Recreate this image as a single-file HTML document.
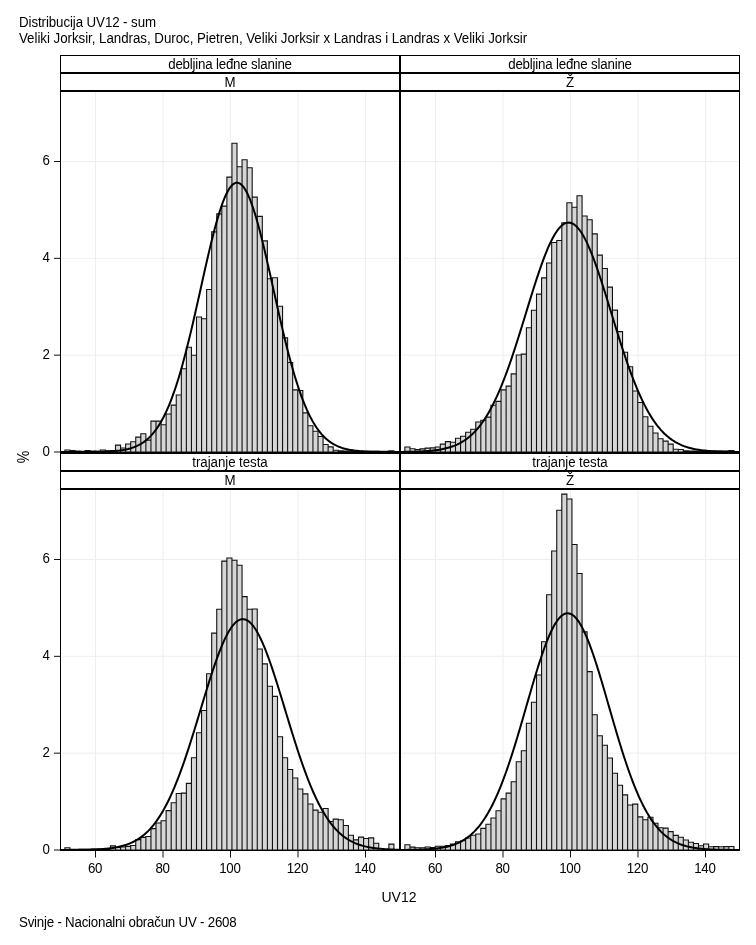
<!DOCTYPE html>
<html lang="sr"><head><meta charset="utf-8"><title>Distribucija UV12 - sum</title>
<style>
html,body{margin:0;padding:0;background:#fff;}
body{width:756px;height:945px;position:relative;overflow:hidden;font-family:"Liberation Sans",Arial,sans-serif;font-size:12px;color:#000;}
.t{position:absolute;white-space:nowrap;line-height:15px;font-size:13.33px;transform:scaleY(1.06);transform-origin:0 12.1px;}
.c{text-align:center;}
.r{text-align:right;}
</style></head><body>
<svg width="756" height="945" viewBox="0 0 756 945" style="position:absolute;left:0;top:0">
<path d="M95.500 92V452.0 M163.000 92V452.0 M230.500 92V452.0 M298.000 92V452.0 M365.500 92V452.0 M62 355.167H399 M62 258.333H399 M62 161.500H399" stroke="#eeeeee" stroke-width="1" fill="none"/>
<path d="M64.88 452.0V450.00H69.94V452.0ZM69.94 452.0V450.50H75.00V452.0ZM75.00 452.0V451.00H80.06V452.0ZM80.06 452.0V451.20H85.12V452.0ZM85.12 452.0V450.50H90.19V452.0ZM90.19 452.0V451.00H95.25V452.0ZM95.25 452.0V451.20H100.31V452.0ZM100.31 452.0V450.00H105.38V452.0ZM105.38 452.0V450.80H110.44V452.0ZM110.44 452.0V450.50H115.50V452.0ZM115.50 452.0V445.10H120.56V452.0ZM120.56 452.0V448.00H125.62V452.0ZM125.62 452.0V444.00H130.69V452.0ZM130.69 452.0V441.70H135.75V452.0ZM135.75 452.0V437.10H140.81V452.0ZM140.81 452.0V433.70H145.88V452.0ZM145.88 452.0V440.10H150.94V452.0ZM150.94 452.0V421.10H156.00V452.0ZM156.00 452.0V421.10H161.06V452.0ZM161.06 452.0V424.70H166.12V452.0ZM166.12 452.0V414.00H171.19V452.0ZM171.19 452.0V405.10H176.25V452.0ZM176.25 452.0V395.00H181.31V452.0ZM181.31 452.0V368.80H186.38V452.0ZM186.38 452.0V347.20H191.44V452.0ZM191.44 452.0V355.30H196.50V452.0ZM196.50 452.0V317.00H201.56V452.0ZM201.56 452.0V318.80H206.62V452.0ZM206.62 452.0V289.50H211.69V452.0ZM211.69 452.0V231.90H216.75V452.0ZM216.75 452.0V213.90H221.81V452.0ZM221.81 452.0V206.10H226.88V452.0ZM226.88 452.0V177.10H231.94V452.0ZM231.94 452.0V143.30H237.00V452.0ZM237.00 452.0V166.70H242.06V452.0ZM242.06 452.0V159.70H247.12V452.0ZM247.12 452.0V167.80H252.19V452.0ZM252.19 452.0V197.10H257.25V452.0ZM257.25 452.0V216.40H262.31V452.0ZM262.31 452.0V240.90H267.38V452.0ZM267.38 452.0V278.80H272.44V452.0ZM272.44 452.0V277.70H277.50V452.0ZM277.50 452.0V306.20H282.56V452.0ZM282.56 452.0V337.90H287.62V452.0ZM287.62 452.0V362.50H292.69V452.0ZM292.69 452.0V389.90H297.75V452.0ZM297.75 452.0V390.50H302.81V452.0ZM302.81 452.0V412.90H307.88V452.0ZM307.88 452.0V425.70H312.94V452.0ZM312.94 452.0V431.20H318.00V452.0ZM318.00 452.0V436.50H323.06V452.0ZM323.06 452.0V444.50H328.12V452.0ZM328.12 452.0V446.90H333.19V452.0ZM333.19 452.0V450.30H338.25V452.0ZM338.25 452.0V450.90H343.31V452.0ZM343.31 452.0V451.00H348.38V452.0ZM348.38 452.0V451.10H353.44V452.0ZM353.44 452.0V451.20H358.50V452.0ZM358.50 452.0V451.20H363.56V452.0ZM363.56 452.0V451.20H368.62V452.0ZM368.62 452.0V451.20H373.69V452.0ZM373.69 452.0V451.20H378.75V452.0ZM378.75 452.0V451.20H383.81V452.0ZM383.81 452.0V451.20H388.88V452.0ZM388.88 452.0V450.70H393.94V452.0Z" fill="#d6d6d6" stroke="#111" stroke-width="1.1"/>
<polyline points="61.0,452.00 62.0,452.00 63.0,452.00 64.0,452.00 65.0,452.00 66.0,452.00 67.0,452.00 68.0,451.99 69.0,451.99 70.0,451.99 71.0,451.99 72.0,451.99 73.0,451.99 74.0,451.99 75.0,451.99 76.0,451.99 77.0,451.98 78.0,451.98 79.0,451.98 80.0,451.98 81.0,451.97 82.0,451.97 83.0,451.97 84.0,451.96 85.0,451.96 86.0,451.95 87.0,451.95 88.0,451.94 89.0,451.93 90.0,451.93 91.0,451.92 92.0,451.91 93.0,451.90 94.0,451.88 95.0,451.87 96.0,451.86 97.0,451.84 98.0,451.82 99.0,451.80 100.0,451.78 101.0,451.76 102.0,451.73 103.0,451.70 104.0,451.67 105.0,451.64 106.0,451.60 107.0,451.56 108.0,451.51 109.0,451.46 110.0,451.40 111.0,451.34 112.0,451.28 113.0,451.21 114.0,451.13 115.0,451.04 116.0,450.95 117.0,450.85 118.0,450.74 119.0,450.63 120.0,450.50 121.0,450.36 122.0,450.21 123.0,450.05 124.0,449.87 125.0,449.68 126.0,449.48 127.0,449.25 128.0,449.02 129.0,448.76 130.0,448.49 131.0,448.19 132.0,447.87 133.0,447.53 134.0,447.17 135.0,446.78 136.0,446.36 137.0,445.91 138.0,445.44 139.0,444.93 140.0,444.39 141.0,443.81 142.0,443.19 143.0,442.54 144.0,441.85 145.0,441.11 146.0,440.33 147.0,439.50 148.0,438.62 149.0,437.69 150.0,436.71 151.0,435.67 152.0,434.58 153.0,433.43 154.0,432.21 155.0,430.93 156.0,429.59 157.0,428.18 158.0,426.70 159.0,425.15 160.0,423.53 161.0,421.83 162.0,420.05 163.0,418.19 164.0,416.26 165.0,414.24 166.0,412.13 167.0,409.94 168.0,407.67 169.0,405.31 170.0,402.86 171.0,400.31 172.0,397.68 173.0,394.96 174.0,392.15 175.0,389.25 176.0,386.25 177.0,383.16 178.0,379.99 179.0,376.72 180.0,373.37 181.0,369.93 182.0,366.40 183.0,362.79 184.0,359.10 185.0,355.33 186.0,351.48 187.0,347.56 188.0,343.57 189.0,339.51 190.0,335.38 191.0,331.20 192.0,326.96 193.0,322.67 194.0,318.34 195.0,313.96 196.0,309.55 197.0,305.11 198.0,300.65 199.0,296.16 200.0,291.67 201.0,287.17 202.0,282.68 203.0,278.19 204.0,273.73 205.0,269.28 206.0,264.87 207.0,260.49 208.0,256.16 209.0,251.89 210.0,247.67 211.0,243.53 212.0,239.46 213.0,235.48 214.0,231.59 215.0,227.80 216.0,224.12 217.0,220.55 218.0,217.11 219.0,213.79 220.0,210.62 221.0,207.58 222.0,204.69 223.0,201.96 224.0,199.39 225.0,196.99 226.0,194.76 227.0,192.71 228.0,190.84 229.0,189.16 230.0,187.66 231.0,186.36 232.0,185.25 233.0,184.34 234.0,183.64 235.0,183.13 236.0,182.83 237.0,182.73 238.0,182.84 239.0,183.15 240.0,183.66 241.0,184.38 242.0,185.29 243.0,186.41 244.0,187.72 245.0,189.22 246.0,190.91 247.0,192.79 248.0,194.85 249.0,197.09 250.0,199.49 251.0,202.07 252.0,204.81 253.0,207.70 254.0,210.74 255.0,213.92 256.0,217.24 257.0,220.69 258.0,224.26 259.0,227.95 260.0,231.74 261.0,235.64 262.0,239.62 263.0,243.69 264.0,247.84 265.0,252.06 266.0,256.33 267.0,260.67 268.0,265.04 269.0,269.46 270.0,273.90 271.0,278.37 272.0,282.86 273.0,287.35 274.0,291.85 275.0,296.34 276.0,300.82 277.0,305.29 278.0,309.73 279.0,314.14 280.0,318.51 281.0,322.84 282.0,327.13 283.0,331.37 284.0,335.55 285.0,339.67 286.0,343.73 287.0,347.72 288.0,351.64 289.0,355.48 290.0,359.25 291.0,362.94 292.0,366.55 293.0,370.07 294.0,373.51 295.0,376.86 296.0,380.12 297.0,383.29 298.0,386.37 299.0,389.36 300.0,392.26 301.0,395.07 302.0,397.79 303.0,400.42 304.0,402.96 305.0,405.40 306.0,407.76 307.0,410.03 308.0,412.22 309.0,414.32 310.0,416.34 311.0,418.27 312.0,420.12 313.0,421.90 314.0,423.59 315.0,425.21 316.0,426.76 317.0,428.24 318.0,429.65 319.0,430.99 320.0,432.26 321.0,433.47 322.0,434.62 323.0,435.71 324.0,436.75 325.0,437.73 326.0,438.65 327.0,439.53 328.0,440.36 329.0,441.14 330.0,441.87 331.0,442.57 332.0,443.22 333.0,443.83 334.0,444.41 335.0,444.95 336.0,445.46 337.0,445.93 338.0,446.38 339.0,446.80 340.0,447.18 341.0,447.55 342.0,447.89 343.0,448.20 344.0,448.50 345.0,448.77 346.0,449.03 347.0,449.26 348.0,449.48 349.0,449.69 350.0,449.88 351.0,450.05 352.0,450.21 353.0,450.36 354.0,450.50 355.0,450.63 356.0,450.75 357.0,450.86 358.0,450.96 359.0,451.05 360.0,451.13 361.0,451.21 362.0,451.28 363.0,451.35 364.0,451.41 365.0,451.46 366.0,451.51 367.0,451.56 368.0,451.60 369.0,451.64 370.0,451.67 371.0,451.70 372.0,451.73 373.0,451.76 374.0,451.78 375.0,451.80 376.0,451.82 377.0,451.84 378.0,451.86 379.0,451.87 380.0,451.88 381.0,451.90 382.0,451.91 383.0,451.92 384.0,451.93 385.0,451.93 386.0,451.94 387.0,451.95 388.0,451.95 389.0,451.96 390.0,451.96 391.0,451.97 392.0,451.97 393.0,451.97 394.0,451.98 395.0,451.98 396.0,451.98 397.0,451.98 398.0,451.99 399.0,451.99" fill="none" stroke="#000" stroke-width="2" stroke-linejoin="round"/>
<path d="M435.500 92V452.0 M503.000 92V452.0 M570.500 92V452.0 M638.000 92V452.0 M705.500 92V452.0 M402 355.167H739 M402 258.333H739 M402 161.500H739" stroke="#eeeeee" stroke-width="1" fill="none"/>
<path d="M404.88 452.0V447.00H409.94V452.0ZM409.94 452.0V448.70H415.00V452.0ZM415.00 452.0V449.50H420.06V452.0ZM420.06 452.0V448.90H425.12V452.0ZM425.12 452.0V448.10H430.19V452.0ZM430.19 452.0V447.90H435.25V452.0ZM435.25 452.0V447.00H440.31V452.0ZM440.31 452.0V444.10H445.38V452.0ZM445.38 452.0V441.60H450.44V452.0ZM450.44 452.0V442.30H455.50V452.0ZM455.50 452.0V438.20H460.56V452.0ZM460.56 452.0V436.20H465.62V452.0ZM465.62 452.0V432.20H470.69V452.0ZM470.69 452.0V429.20H475.75V452.0ZM475.75 452.0V422.00H480.81V452.0ZM480.81 452.0V420.20H485.88V452.0ZM485.88 452.0V417.10H490.94V452.0ZM490.94 452.0V405.20H496.00V452.0ZM496.00 452.0V401.40H501.06V452.0ZM501.06 452.0V389.90H506.12V452.0ZM506.12 452.0V386.10H511.19V452.0ZM511.19 452.0V373.90H516.25V452.0ZM516.25 452.0V355.00H521.31V452.0ZM521.31 452.0V354.10H526.38V452.0ZM526.38 452.0V327.80H531.44V452.0ZM531.44 452.0V310.30H536.50V452.0ZM536.50 452.0V294.10H541.56V452.0ZM541.56 452.0V277.90H546.62V452.0ZM546.62 452.0V263.00H551.69V452.0ZM551.69 452.0V242.50H556.75V452.0ZM556.75 452.0V240.50H561.81V452.0ZM561.81 452.0V222.90H566.88V452.0ZM566.88 452.0V202.70H571.94V452.0ZM571.94 452.0V207.20H577.00V452.0ZM577.00 452.0V195.70H582.06V452.0ZM582.06 452.0V216.00H587.12V452.0ZM587.12 452.0V219.80H592.19V452.0ZM592.19 452.0V233.90H597.25V452.0ZM597.25 452.0V255.10H602.31V452.0ZM602.31 452.0V268.50H607.38V452.0ZM607.38 452.0V287.10H612.44V452.0ZM612.44 452.0V310.10H617.50V452.0ZM617.50 452.0V331.60H622.56V452.0ZM622.56 452.0V352.30H627.62V452.0ZM627.62 452.0V366.70H632.69V452.0ZM632.69 452.0V391.00H637.75V452.0ZM637.75 452.0V402.50H642.81V452.0ZM642.81 452.0V416.80H647.88V452.0ZM647.88 452.0V426.20H652.94V452.0ZM652.94 452.0V433.00H658.00V452.0ZM658.00 452.0V438.70H663.06V452.0ZM663.06 452.0V441.10H668.12V452.0ZM668.12 452.0V444.10H673.19V452.0ZM673.19 452.0V449.20H678.25V452.0ZM678.25 452.0V449.50H683.31V452.0ZM683.31 452.0V450.90H688.38V452.0ZM688.38 452.0V451.00H693.44V452.0ZM693.44 452.0V451.00H698.50V452.0ZM698.50 452.0V451.10H703.56V452.0ZM703.56 452.0V451.10H708.62V452.0ZM708.62 452.0V451.10H713.69V452.0ZM713.69 452.0V451.10H718.75V452.0ZM718.75 452.0V451.10H723.81V452.0ZM723.81 452.0V451.10H728.88V452.0ZM728.88 452.0V450.50H733.94V452.0Z" fill="#d6d6d6" stroke="#111" stroke-width="1.1"/>
<polyline points="401.0,451.90 402.0,451.89 403.0,451.88 404.0,451.87 405.0,451.86 406.0,451.84 407.0,451.83 408.0,451.81 409.0,451.79 410.0,451.77 411.0,451.75 412.0,451.73 413.0,451.71 414.0,451.68 415.0,451.65 416.0,451.62 417.0,451.59 418.0,451.55 419.0,451.52 420.0,451.48 421.0,451.43 422.0,451.38 423.0,451.33 424.0,451.28 425.0,451.22 426.0,451.15 427.0,451.08 428.0,451.01 429.0,450.93 430.0,450.84 431.0,450.75 432.0,450.65 433.0,450.55 434.0,450.44 435.0,450.32 436.0,450.19 437.0,450.05 438.0,449.91 439.0,449.75 440.0,449.59 441.0,449.41 442.0,449.22 443.0,449.02 444.0,448.81 445.0,448.58 446.0,448.34 447.0,448.09 448.0,447.82 449.0,447.53 450.0,447.23 451.0,446.91 452.0,446.57 453.0,446.21 454.0,445.84 455.0,445.44 456.0,445.01 457.0,444.57 458.0,444.10 459.0,443.61 460.0,443.09 461.0,442.54 462.0,441.97 463.0,441.36 464.0,440.73 465.0,440.06 466.0,439.37 467.0,438.64 468.0,437.87 469.0,437.07 470.0,436.23 471.0,435.36 472.0,434.45 473.0,433.49 474.0,432.50 475.0,431.46 476.0,430.38 477.0,429.25 478.0,428.08 479.0,426.87 480.0,425.60 481.0,424.29 482.0,422.93 483.0,421.52 484.0,420.06 485.0,418.54 486.0,416.98 487.0,415.36 488.0,413.68 489.0,411.96 490.0,410.17 491.0,408.34 492.0,406.44 493.0,404.49 494.0,402.49 495.0,400.42 496.0,398.31 497.0,396.13 498.0,393.90 499.0,391.61 500.0,389.27 501.0,386.87 502.0,384.42 503.0,381.92 504.0,379.36 505.0,376.75 506.0,374.09 507.0,371.38 508.0,368.62 509.0,365.81 510.0,362.96 511.0,360.06 512.0,357.13 513.0,354.15 514.0,351.13 515.0,348.08 516.0,345.00 517.0,341.88 518.0,338.74 519.0,335.57 520.0,332.38 521.0,329.17 522.0,325.94 523.0,322.70 524.0,319.44 525.0,316.18 526.0,312.92 527.0,309.66 528.0,306.40 529.0,303.14 530.0,299.90 531.0,296.67 532.0,293.47 533.0,290.28 534.0,287.12 535.0,284.00 536.0,280.90 537.0,277.85 538.0,274.84 539.0,271.87 540.0,268.96 541.0,266.11 542.0,263.31 543.0,260.57 544.0,257.91 545.0,255.31 546.0,252.79 547.0,250.35 548.0,247.98 549.0,245.71 550.0,243.53 551.0,241.43 552.0,239.44 553.0,237.54 554.0,235.75 555.0,234.06 556.0,232.47 557.0,231.00 558.0,229.64 559.0,228.40 560.0,227.27 561.0,226.26 562.0,225.37 563.0,224.60 564.0,223.96 565.0,223.44 566.0,223.04 567.0,222.77 568.0,222.63 569.0,222.61 570.0,222.72 571.0,222.95 572.0,223.31 573.0,223.80 574.0,224.40 575.0,225.14 576.0,225.99 577.0,226.97 578.0,228.06 579.0,229.27 580.0,230.60 581.0,232.04 582.0,233.59 583.0,235.25 584.0,237.01 585.0,238.88 586.0,240.85 587.0,242.91 588.0,245.07 589.0,247.32 590.0,249.66 591.0,252.08 592.0,254.58 593.0,257.15 594.0,259.80 595.0,262.51 596.0,265.29 597.0,268.14 598.0,271.03 599.0,273.98 600.0,276.98 601.0,280.02 602.0,283.10 603.0,286.22 604.0,289.37 605.0,292.55 606.0,295.75 607.0,298.97 608.0,302.21 609.0,305.46 610.0,308.72 611.0,311.98 612.0,315.24 613.0,318.51 614.0,321.76 615.0,325.01 616.0,328.24 617.0,331.46 618.0,334.65 619.0,337.83 620.0,340.98 621.0,344.11 622.0,347.20 623.0,350.26 624.0,353.29 625.0,356.27 626.0,359.22 627.0,362.13 628.0,365.00 629.0,367.81 630.0,370.59 631.0,373.31 632.0,375.99 633.0,378.61 634.0,381.19 635.0,383.71 636.0,386.17 637.0,388.59 638.0,390.95 639.0,393.25 640.0,395.49 641.0,397.69 642.0,399.82 643.0,401.90 644.0,403.92 645.0,405.89 646.0,407.80 647.0,409.65 648.0,411.45 649.0,413.19 650.0,414.88 651.0,416.52 652.0,418.10 653.0,419.63 654.0,421.10 655.0,422.53 656.0,423.91 657.0,425.23 658.0,426.51 659.0,427.74 660.0,428.92 661.0,430.06 662.0,431.15 663.0,432.20 664.0,433.21 665.0,434.18 666.0,435.10 667.0,435.99 668.0,436.84 669.0,437.65 670.0,438.42 671.0,439.16 672.0,439.87 673.0,440.54 674.0,441.18 675.0,441.80 676.0,442.38 677.0,442.93 678.0,443.46 679.0,443.96 680.0,444.44 681.0,444.89 682.0,445.32 683.0,445.72 684.0,446.11 685.0,446.47 686.0,446.82 687.0,447.14 688.0,447.45 689.0,447.74 690.0,448.01 691.0,448.27 692.0,448.52 693.0,448.75 694.0,448.96 695.0,449.17 696.0,449.36 697.0,449.54 698.0,449.70 699.0,449.86 700.0,450.01 701.0,450.15 702.0,450.28 703.0,450.40 704.0,450.52 705.0,450.62 706.0,450.72 707.0,450.82 708.0,450.90 709.0,450.99 710.0,451.06 711.0,451.13 712.0,451.20 713.0,451.26 714.0,451.32 715.0,451.37 716.0,451.42 717.0,451.46 718.0,451.50 719.0,451.54 720.0,451.58 721.0,451.61 722.0,451.65 723.0,451.67 724.0,451.70 725.0,451.73 726.0,451.75 727.0,451.77 728.0,451.79 729.0,451.81 730.0,451.82 731.0,451.84 732.0,451.85 733.0,451.86 734.0,451.88 735.0,451.89 736.0,451.90 737.0,451.91 738.0,451.91 739.0,451.92" fill="none" stroke="#000" stroke-width="2" stroke-linejoin="round"/>
<path d="M95.500 490V850.0 M163.000 490V850.0 M230.500 490V850.0 M298.000 490V850.0 M365.500 490V850.0 M62 753.167H399 M62 656.333H399 M62 559.500H399" stroke="#eeeeee" stroke-width="1" fill="none"/>
<path d="M64.88 850.0V847.70H69.94V850.0ZM69.94 850.0V849.20H75.00V850.0ZM75.00 850.0V849.20H80.06V850.0ZM80.06 850.0V849.20H85.12V850.0ZM85.12 850.0V849.20H90.19V850.0ZM90.19 850.0V849.10H95.25V850.0ZM95.25 850.0V849.10H100.31V850.0ZM100.31 850.0V849.00H105.38V850.0ZM105.38 850.0V848.90H110.44V850.0ZM110.44 850.0V845.90H115.50V850.0ZM115.50 850.0V847.50H120.56V850.0ZM120.56 850.0V847.00H125.62V850.0ZM125.62 850.0V846.40H130.69V850.0ZM130.69 850.0V845.50H135.75V850.0ZM135.75 850.0V839.60H140.81V850.0ZM140.81 850.0V837.40H145.88V850.0ZM145.88 850.0V836.50H150.94V850.0ZM150.94 850.0V828.60H156.00V850.0ZM156.00 850.0V823.00H161.06V850.0ZM161.06 850.0V820.70H166.12V850.0ZM166.12 850.0V810.60H171.19V850.0ZM171.19 850.0V802.70H176.25V850.0ZM176.25 850.0V793.50H181.31V850.0ZM181.31 850.0V793.10H186.38V850.0ZM186.38 850.0V783.40H191.44V850.0ZM191.44 850.0V757.80H196.50V850.0ZM196.50 850.0V732.80H201.56V850.0ZM201.56 850.0V710.50H206.62V850.0ZM206.62 850.0V673.70H211.69V850.0ZM211.69 850.0V633.10H216.75V850.0ZM216.75 850.0V609.20H221.81V850.0ZM221.81 850.0V561.10H226.88V850.0ZM226.88 850.0V558.00H231.94V850.0ZM231.94 850.0V560.20H237.00V850.0ZM237.00 850.0V565.20H242.06V850.0ZM242.06 850.0V596.60H247.12V850.0ZM247.12 850.0V609.20H252.19V850.0ZM252.19 850.0V609.00H257.25V850.0ZM257.25 850.0V649.00H262.31V850.0ZM262.31 850.0V663.90H267.38V850.0ZM267.38 850.0V686.20H272.44V850.0ZM272.44 850.0V696.40H277.50V850.0ZM277.50 850.0V736.80H282.56V850.0ZM282.56 850.0V757.80H287.62V850.0ZM287.62 850.0V769.50H292.69V850.0ZM292.69 850.0V778.00H297.75V850.0ZM297.75 850.0V789.00H302.81V850.0ZM302.81 850.0V793.90H307.88V850.0ZM307.88 850.0V804.00H312.94V850.0ZM312.94 850.0V810.10H318.00V850.0ZM318.00 850.0V812.30H323.06V850.0ZM323.06 850.0V808.50H328.12V850.0ZM328.12 850.0V821.50H333.19V850.0ZM333.19 850.0V819.10H338.25V850.0ZM338.25 850.0V819.80H343.31V850.0ZM343.31 850.0V825.50H348.38V850.0ZM348.38 850.0V835.30H353.44V850.0ZM353.44 850.0V839.90H358.50V850.0ZM358.50 850.0V837.10H363.56V850.0ZM363.56 850.0V838.50H368.62V850.0ZM368.62 850.0V837.90H373.69V850.0ZM373.69 850.0V843.20H378.75V850.0ZM388.88 850.0V844.10H393.94V850.0Z" fill="#d6d6d6" stroke="#111" stroke-width="1.1"/>
<polyline points="61.0,849.98 62.0,849.97 63.0,849.97 64.0,849.97 65.0,849.97 66.0,849.96 67.0,849.96 68.0,849.95 69.0,849.95 70.0,849.94 71.0,849.94 72.0,849.93 73.0,849.93 74.0,849.92 75.0,849.91 76.0,849.90 77.0,849.89 78.0,849.88 79.0,849.87 80.0,849.86 81.0,849.84 82.0,849.83 83.0,849.81 84.0,849.80 85.0,849.78 86.0,849.76 87.0,849.73 88.0,849.71 89.0,849.68 90.0,849.66 91.0,849.63 92.0,849.59 93.0,849.56 94.0,849.52 95.0,849.48 96.0,849.43 97.0,849.38 98.0,849.33 99.0,849.28 100.0,849.22 101.0,849.15 102.0,849.08 103.0,849.01 104.0,848.93 105.0,848.84 106.0,848.75 107.0,848.65 108.0,848.54 109.0,848.43 110.0,848.31 111.0,848.18 112.0,848.04 113.0,847.89 114.0,847.74 115.0,847.57 116.0,847.39 117.0,847.20 118.0,847.00 119.0,846.78 120.0,846.55 121.0,846.31 122.0,846.05 123.0,845.78 124.0,845.49 125.0,845.18 126.0,844.85 127.0,844.51 128.0,844.14 129.0,843.76 130.0,843.35 131.0,842.92 132.0,842.47 133.0,841.99 134.0,841.49 135.0,840.96 136.0,840.40 137.0,839.81 138.0,839.20 139.0,838.55 140.0,837.87 141.0,837.16 142.0,836.41 143.0,835.63 144.0,834.82 145.0,833.96 146.0,833.07 147.0,832.13 148.0,831.16 149.0,830.14 150.0,829.08 151.0,827.97 152.0,826.82 153.0,825.63 154.0,824.38 155.0,823.09 156.0,821.75 157.0,820.36 158.0,818.91 159.0,817.42 160.0,815.87 161.0,814.27 162.0,812.61 163.0,810.90 164.0,809.13 165.0,807.30 166.0,805.42 167.0,803.49 168.0,801.49 169.0,799.44 170.0,797.33 171.0,795.17 172.0,792.94 173.0,790.66 174.0,788.32 175.0,785.93 176.0,783.48 177.0,780.98 178.0,778.42 179.0,775.80 180.0,773.14 181.0,770.42 182.0,767.65 183.0,764.84 184.0,761.97 185.0,759.07 186.0,756.11 187.0,753.12 188.0,750.09 189.0,747.02 190.0,743.91 191.0,740.77 192.0,737.60 193.0,734.40 194.0,731.18 195.0,727.94 196.0,724.67 197.0,721.40 198.0,718.11 199.0,714.81 200.0,711.50 201.0,708.20 202.0,704.89 203.0,701.60 204.0,698.31 205.0,695.03 206.0,691.78 207.0,688.54 208.0,685.33 209.0,682.15 210.0,679.00 211.0,675.90 212.0,672.83 213.0,669.81 214.0,666.84 215.0,663.93 216.0,661.07 217.0,658.28 218.0,655.55 219.0,652.90 220.0,650.32 221.0,647.82 222.0,645.41 223.0,643.08 224.0,640.84 225.0,638.69 226.0,636.64 227.0,634.69 228.0,632.84 229.0,631.10 230.0,629.47 231.0,627.95 232.0,626.55 233.0,625.26 234.0,624.09 235.0,623.04 236.0,622.11 237.0,621.31 238.0,620.63 239.0,620.07 240.0,619.65 241.0,619.35 242.0,619.18 243.0,619.14 244.0,619.23 245.0,619.44 246.0,619.79 247.0,620.26 248.0,620.86 249.0,621.58 250.0,622.43 251.0,623.40 252.0,624.50 253.0,625.71 254.0,627.04 255.0,628.49 256.0,630.05 257.0,631.72 258.0,633.50 259.0,635.38 260.0,637.37 261.0,639.46 262.0,641.64 263.0,643.91 264.0,646.27 265.0,648.72 266.0,651.25 267.0,653.85 268.0,656.53 269.0,659.28 270.0,662.10 271.0,664.98 272.0,667.91 273.0,670.90 274.0,673.94 275.0,677.02 276.0,680.14 277.0,683.30 278.0,686.49 279.0,689.71 280.0,692.95 281.0,696.22 282.0,699.50 283.0,702.79 284.0,706.09 285.0,709.40 286.0,712.70 287.0,716.00 288.0,719.30 289.0,722.59 290.0,725.86 291.0,729.11 292.0,732.35 293.0,735.56 294.0,738.75 295.0,741.91 296.0,745.04 297.0,748.13 298.0,751.19 299.0,754.21 300.0,757.19 301.0,760.13 302.0,763.02 303.0,765.86 304.0,768.66 305.0,771.41 306.0,774.11 307.0,776.76 308.0,779.35 309.0,781.89 310.0,784.37 311.0,786.80 312.0,789.18 313.0,791.49 314.0,793.75 315.0,795.96 316.0,798.10 317.0,800.19 318.0,802.22 319.0,804.20 320.0,806.11 321.0,807.97 322.0,809.78 323.0,811.52 324.0,813.22 325.0,814.85 326.0,816.44 327.0,817.97 328.0,819.44 329.0,820.87 330.0,822.24 331.0,823.57 332.0,824.84 333.0,826.07 334.0,827.25 335.0,828.38 336.0,829.47 337.0,830.51 338.0,831.52 339.0,832.48 340.0,833.39 341.0,834.27 342.0,835.12 343.0,835.92 344.0,836.69 345.0,837.42 346.0,838.12 347.0,838.79 348.0,839.42 349.0,840.03 350.0,840.60 351.0,841.15 352.0,841.67 353.0,842.17 354.0,842.63 355.0,843.08 356.0,843.50 357.0,843.90 358.0,844.28 359.0,844.63 360.0,844.97 361.0,845.29 362.0,845.59 363.0,845.88 364.0,846.15 365.0,846.40 366.0,846.64 367.0,846.86 368.0,847.07 369.0,847.27 370.0,847.46 371.0,847.63 372.0,847.79 373.0,847.95 374.0,848.09 375.0,848.23 376.0,848.35 377.0,848.47 378.0,848.58 379.0,848.69 380.0,848.78 381.0,848.87 382.0,848.96 383.0,849.03 384.0,849.11 385.0,849.17 386.0,849.24 387.0,849.30 388.0,849.35 389.0,849.40 390.0,849.45 391.0,849.49 392.0,849.53 393.0,849.57 394.0,849.60 395.0,849.64 396.0,849.67 397.0,849.69 398.0,849.72 399.0,849.74" fill="none" stroke="#000" stroke-width="2" stroke-linejoin="round"/>
<path d="M435.500 490V850.0 M503.000 490V850.0 M570.500 490V850.0 M638.000 490V850.0 M705.500 490V850.0 M402 753.167H739 M402 656.333H739 M402 559.500H739" stroke="#eeeeee" stroke-width="1" fill="none"/>
<path d="M404.88 850.0V844.80H409.94V850.0ZM409.94 850.0V847.10H415.00V850.0ZM415.00 850.0V847.80H420.06V850.0ZM420.06 850.0V847.80H425.12V850.0ZM425.12 850.0V847.00H430.19V850.0ZM430.19 850.0V847.60H435.25V850.0ZM435.25 850.0V846.20H440.31V850.0ZM440.31 850.0V846.20H445.38V850.0ZM445.38 850.0V845.50H450.44V850.0ZM450.44 850.0V844.10H455.50V850.0ZM455.50 850.0V841.90H460.56V850.0ZM460.56 850.0V840.70H465.62V850.0ZM465.62 850.0V838.00H470.69V850.0ZM470.69 850.0V835.30H475.75V850.0ZM475.75 850.0V834.00H480.81V850.0ZM480.81 850.0V828.40H485.88V850.0ZM485.88 850.0V824.30H490.94V850.0ZM490.94 850.0V818.00H496.00V850.0ZM496.00 850.0V810.80H501.06V850.0ZM501.06 850.0V798.90H506.12V850.0ZM506.12 850.0V793.10H511.19V850.0ZM511.19 850.0V781.80H516.25V850.0ZM516.25 850.0V761.80H521.31V850.0ZM521.31 850.0V750.80H526.38V850.0ZM526.38 850.0V723.30H531.44V850.0ZM531.44 850.0V702.20H536.50V850.0ZM536.50 850.0V675.00H541.56V850.0ZM541.56 850.0V641.80H546.62V850.0ZM546.62 850.0V594.80H551.69V850.0ZM551.69 850.0V551.00H556.75V850.0ZM556.75 850.0V510.30H561.81V850.0ZM561.81 850.0V494.10H566.88V850.0ZM566.88 850.0V499.00H571.94V850.0ZM571.94 850.0V544.50H577.00V850.0ZM577.00 850.0V573.50H582.06V850.0ZM582.06 850.0V631.90H587.12V850.0ZM587.12 850.0V671.60H592.19V850.0ZM592.19 850.0V714.80H597.25V850.0ZM597.25 850.0V735.70H602.31V850.0ZM602.31 850.0V745.20H607.38V850.0ZM607.38 850.0V758.00H612.44V850.0ZM612.44 850.0V773.30H617.50V850.0ZM617.50 850.0V785.20H622.56V850.0ZM622.56 850.0V794.90H627.62V850.0ZM627.62 850.0V805.00H632.69V850.0ZM632.69 850.0V804.10H637.75V850.0ZM637.75 850.0V816.90H642.81V850.0ZM642.81 850.0V819.70H647.88V850.0ZM647.88 850.0V817.30H652.94V850.0ZM652.94 850.0V823.20H658.00V850.0ZM658.00 850.0V827.70H663.06V850.0ZM663.06 850.0V828.10H668.12V850.0ZM668.12 850.0V831.60H673.19V850.0ZM673.19 850.0V835.40H678.25V850.0ZM678.25 850.0V837.20H683.31V850.0ZM683.31 850.0V840.00H688.38V850.0ZM688.38 850.0V842.30H693.44V850.0ZM693.44 850.0V843.50H698.50V850.0ZM698.50 850.0V845.80H703.56V850.0ZM703.56 850.0V844.00H708.62V850.0ZM708.62 850.0V846.80H713.69V850.0ZM713.69 850.0V846.60H718.75V850.0ZM718.75 850.0V846.80H723.81V850.0ZM723.81 850.0V846.60H728.88V850.0ZM728.88 850.0V846.50H733.94V850.0Z" fill="#d6d6d6" stroke="#111" stroke-width="1.1"/>
<polyline points="401.0,849.93 402.0,849.92 403.0,849.92 404.0,849.91 405.0,849.90 406.0,849.89 407.0,849.88 408.0,849.86 409.0,849.85 410.0,849.84 411.0,849.82 412.0,849.80 413.0,849.79 414.0,849.77 415.0,849.74 416.0,849.72 417.0,849.69 418.0,849.66 419.0,849.63 420.0,849.60 421.0,849.57 422.0,849.53 423.0,849.48 424.0,849.44 425.0,849.39 426.0,849.34 427.0,849.28 428.0,849.22 429.0,849.15 430.0,849.08 431.0,849.00 432.0,848.92 433.0,848.83 434.0,848.74 435.0,848.63 436.0,848.52 437.0,848.40 438.0,848.28 439.0,848.14 440.0,848.00 441.0,847.84 442.0,847.68 443.0,847.50 444.0,847.31 445.0,847.11 446.0,846.90 447.0,846.67 448.0,846.43 449.0,846.17 450.0,845.89 451.0,845.60 452.0,845.29 453.0,844.96 454.0,844.61 455.0,844.25 456.0,843.85 457.0,843.44 458.0,843.00 459.0,842.54 460.0,842.05 461.0,841.54 462.0,841.00 463.0,840.42 464.0,839.82 465.0,839.19 466.0,838.52 467.0,837.82 468.0,837.08 469.0,836.31 470.0,835.50 471.0,834.65 472.0,833.76 473.0,832.83 474.0,831.86 475.0,830.84 476.0,829.78 477.0,828.67 478.0,827.51 479.0,826.31 480.0,825.05 481.0,823.74 482.0,822.38 483.0,820.97 484.0,819.50 485.0,817.98 486.0,816.40 487.0,814.77 488.0,813.07 489.0,811.32 490.0,809.51 491.0,807.64 492.0,805.70 493.0,803.71 494.0,801.66 495.0,799.54 496.0,797.36 497.0,795.12 498.0,792.82 499.0,790.45 500.0,788.03 501.0,785.54 502.0,782.99 503.0,780.39 504.0,777.72 505.0,775.00 506.0,772.22 507.0,769.38 508.0,766.49 509.0,763.54 510.0,760.55 511.0,757.50 512.0,754.41 513.0,751.27 514.0,748.09 515.0,744.87 516.0,741.61 517.0,738.31 518.0,734.98 519.0,731.62 520.0,728.23 521.0,724.82 522.0,721.39 523.0,717.95 524.0,714.49 525.0,711.02 526.0,707.55 527.0,704.07 528.0,700.60 529.0,697.13 530.0,693.68 531.0,690.24 532.0,686.82 533.0,683.43 534.0,680.06 535.0,676.73 536.0,673.44 537.0,670.19 538.0,666.98 539.0,663.83 540.0,660.74 541.0,657.70 542.0,654.74 543.0,651.84 544.0,649.02 545.0,646.28 546.0,643.62 547.0,641.05 548.0,638.57 549.0,636.18 550.0,633.90 551.0,631.72 552.0,629.64 553.0,627.68 554.0,625.83 555.0,624.10 556.0,622.49 557.0,621.00 558.0,619.64 559.0,618.40 560.0,617.30 561.0,616.32 562.0,615.48 563.0,614.77 564.0,614.20 565.0,613.77 566.0,613.48 567.0,613.32 568.0,613.30 569.0,613.42 570.0,613.68 571.0,614.08 572.0,614.61 573.0,615.28 574.0,616.09 575.0,617.03 576.0,618.10 577.0,619.30 578.0,620.63 579.0,622.09 580.0,623.67 581.0,625.37 582.0,627.19 583.0,629.12 584.0,631.16 585.0,633.32 586.0,635.57 587.0,637.93 588.0,640.39 589.0,642.93 590.0,645.57 591.0,648.29 592.0,651.09 593.0,653.97 594.0,656.92 595.0,659.94 596.0,663.01 597.0,666.15 598.0,669.34 599.0,672.58 600.0,675.86 601.0,679.18 602.0,682.54 603.0,685.93 604.0,689.34 605.0,692.77 606.0,696.22 607.0,699.69 608.0,703.16 609.0,706.63 610.0,710.11 611.0,713.58 612.0,717.04 613.0,720.49 614.0,723.93 615.0,727.34 616.0,730.73 617.0,734.10 618.0,737.44 619.0,740.74 620.0,744.01 621.0,747.25 622.0,750.44 623.0,753.59 624.0,756.70 625.0,759.75 626.0,762.76 627.0,765.72 628.0,768.63 629.0,771.48 630.0,774.27 631.0,777.01 632.0,779.69 633.0,782.32 634.0,784.88 635.0,787.38 636.0,789.82 637.0,792.20 638.0,794.52 639.0,796.78 640.0,798.97 641.0,801.11 642.0,803.18 643.0,805.19 644.0,807.14 645.0,809.02 646.0,810.85 647.0,812.62 648.0,814.33 649.0,815.98 650.0,817.57 651.0,819.11 652.0,820.59 653.0,822.02 654.0,823.39 655.0,824.71 656.0,825.98 657.0,827.20 658.0,828.37 659.0,829.49 660.0,830.57 661.0,831.60 662.0,832.58 663.0,833.52 664.0,834.42 665.0,835.28 666.0,836.10 667.0,836.88 668.0,837.63 669.0,838.34 670.0,839.02 671.0,839.66 672.0,840.27 673.0,840.85 674.0,841.40 675.0,841.92 676.0,842.42 677.0,842.89 678.0,843.33 679.0,843.75 680.0,844.15 681.0,844.52 682.0,844.87 683.0,845.21 684.0,845.52 685.0,845.82 686.0,846.10 687.0,846.36 688.0,846.61 689.0,846.84 690.0,847.06 691.0,847.26 692.0,847.45 693.0,847.63 694.0,847.80 695.0,847.96 696.0,848.11 697.0,848.24 698.0,848.37 699.0,848.49 700.0,848.60 701.0,848.71 702.0,848.81 703.0,848.90 704.0,848.98 705.0,849.06 706.0,849.13 707.0,849.20 708.0,849.26 709.0,849.32 710.0,849.38 711.0,849.43 712.0,849.47 713.0,849.52 714.0,849.56 715.0,849.59 716.0,849.63 717.0,849.66 718.0,849.69 719.0,849.71 720.0,849.74 721.0,849.76 722.0,849.78 723.0,849.80 724.0,849.82 725.0,849.83 726.0,849.85 727.0,849.86 728.0,849.87 729.0,849.88 730.0,849.90 731.0,849.90 732.0,849.91 733.0,849.92 734.0,849.93 735.0,849.94 736.0,849.94 737.0,849.95 738.0,849.95 739.0,849.96" fill="none" stroke="#000" stroke-width="2" stroke-linejoin="round"/>
<rect x="60.5" y="55.5" width="339" height="17" fill="none" stroke="#000" stroke-width="1" shape-rendering="crispEdges"/><rect x="60.5" y="73.5" width="339" height="17" fill="none" stroke="#000" stroke-width="1" shape-rendering="crispEdges"/><rect x="60.5" y="91.5" width="339" height="361" fill="none" stroke="#000" stroke-width="1" shape-rendering="crispEdges"/><rect x="400.5" y="55.5" width="339" height="17" fill="none" stroke="#000" stroke-width="1" shape-rendering="crispEdges"/><rect x="400.5" y="73.5" width="339" height="17" fill="none" stroke="#000" stroke-width="1" shape-rendering="crispEdges"/><rect x="400.5" y="91.5" width="339" height="361" fill="none" stroke="#000" stroke-width="1" shape-rendering="crispEdges"/><rect x="60.5" y="453.5" width="339" height="17" fill="none" stroke="#000" stroke-width="1" shape-rendering="crispEdges"/><rect x="60.5" y="471.5" width="339" height="17" fill="none" stroke="#000" stroke-width="1" shape-rendering="crispEdges"/><rect x="60.5" y="489.5" width="339" height="361" fill="none" stroke="#000" stroke-width="1" shape-rendering="crispEdges"/><rect x="400.5" y="453.5" width="339" height="17" fill="none" stroke="#000" stroke-width="1" shape-rendering="crispEdges"/><rect x="400.5" y="471.5" width="339" height="17" fill="none" stroke="#000" stroke-width="1" shape-rendering="crispEdges"/><rect x="400.5" y="489.5" width="339" height="361" fill="none" stroke="#000" stroke-width="1" shape-rendering="crispEdges"/>
<path d="M54 452.000H60 M54 355.167H60 M54 258.333H60 M54 161.500H60 M54 850.000H60 M54 753.167H60 M54 656.333H60 M54 559.500H60 M95.500 851V857.5 M163.000 851V857.5 M230.500 851V857.5 M298.000 851V857.5 M365.500 851V857.5 M435.500 851V857.5 M503.000 851V857.5 M570.500 851V857.5 M638.000 851V857.5 M705.500 851V857.5" stroke="#111" stroke-width="1" fill="none"/>
</svg>
<div class="t " style="left:19px;top:15px;letter-spacing:-0.1px">Distribucija UV12 - sum</div><div class="t " style="left:19px;top:31px;letter-spacing:-0.04px">Veliki Jorksir, Landras, Duroc, Pietren, Veliki Jorksir x Landras i Landras x Veliki Jorksir</div><div class="t " style="left:19px;top:915px;letter-spacing:-0.23px">Svinje - Nacionalni obračun UV - 2608</div><div class="t c" style="left:60px;width:340px;top:57px;letter-spacing:-0.21px">debljina leđne slanine</div><div class="t c" style="left:60px;width:340px;top:75px">M</div><div class="t c" style="left:400px;width:340px;top:57px;letter-spacing:-0.21px">debljina leđne slanine</div><div class="t c" style="left:400px;width:340px;top:75px">Ž</div><div class="t c" style="left:60px;width:340px;top:455px;letter-spacing:-0.07px">trajanje testa</div><div class="t c" style="left:60px;width:340px;top:473px">M</div><div class="t c" style="left:400px;width:340px;top:455px;letter-spacing:-0.07px">trajanje testa</div><div class="t c" style="left:400px;width:340px;top:473px">Ž</div><div class="t r" style="left:19.5px;width:30px;top:444px;letter-spacing:-0.4px">0</div><div class="t r" style="left:19.5px;width:30px;top:347px;letter-spacing:-0.4px">2</div><div class="t r" style="left:19.5px;width:30px;top:250px;letter-spacing:-0.4px">4</div><div class="t r" style="left:19.5px;width:30px;top:153px;letter-spacing:-0.4px">6</div><div class="t r" style="left:19.5px;width:30px;top:842px;letter-spacing:-0.4px">0</div><div class="t r" style="left:19.5px;width:30px;top:745px;letter-spacing:-0.4px">2</div><div class="t r" style="left:19.5px;width:30px;top:648px;letter-spacing:-0.4px">4</div><div class="t r" style="left:19.5px;width:30px;top:551px;letter-spacing:-0.4px">6</div><div class="t c" style="left:74.4px;width:41px;top:861px;letter-spacing:-0.4px">60</div><div class="t c" style="left:141.9px;width:41px;top:861px;letter-spacing:-0.4px">80</div><div class="t c" style="left:209.4px;width:41px;top:861px;letter-spacing:-0.4px">100</div><div class="t c" style="left:276.9px;width:41px;top:861px;letter-spacing:-0.4px">120</div><div class="t c" style="left:344.4px;width:41px;top:861px;letter-spacing:-0.4px">140</div><div class="t c" style="left:414.4px;width:41px;top:861px;letter-spacing:-0.4px">60</div><div class="t c" style="left:481.9px;width:41px;top:861px;letter-spacing:-0.4px">80</div><div class="t c" style="left:549.4px;width:41px;top:861px;letter-spacing:-0.4px">100</div><div class="t c" style="left:616.9px;width:41px;top:861px;letter-spacing:-0.4px">120</div><div class="t c" style="left:684.4px;width:41px;top:861px;letter-spacing:-0.4px">140</div><div class="t c" style="left:359px;width:80px;top:889px;font-size:14px;line-height:16px">UV12</div><div class="t c" style="left:15.2px;top:449px;width:16px;height:16px;font-size:14px;line-height:16px;transform:rotate(-90deg) scaleY(1.13);transform-origin:50% 50%;">%</div>
</body></html>
